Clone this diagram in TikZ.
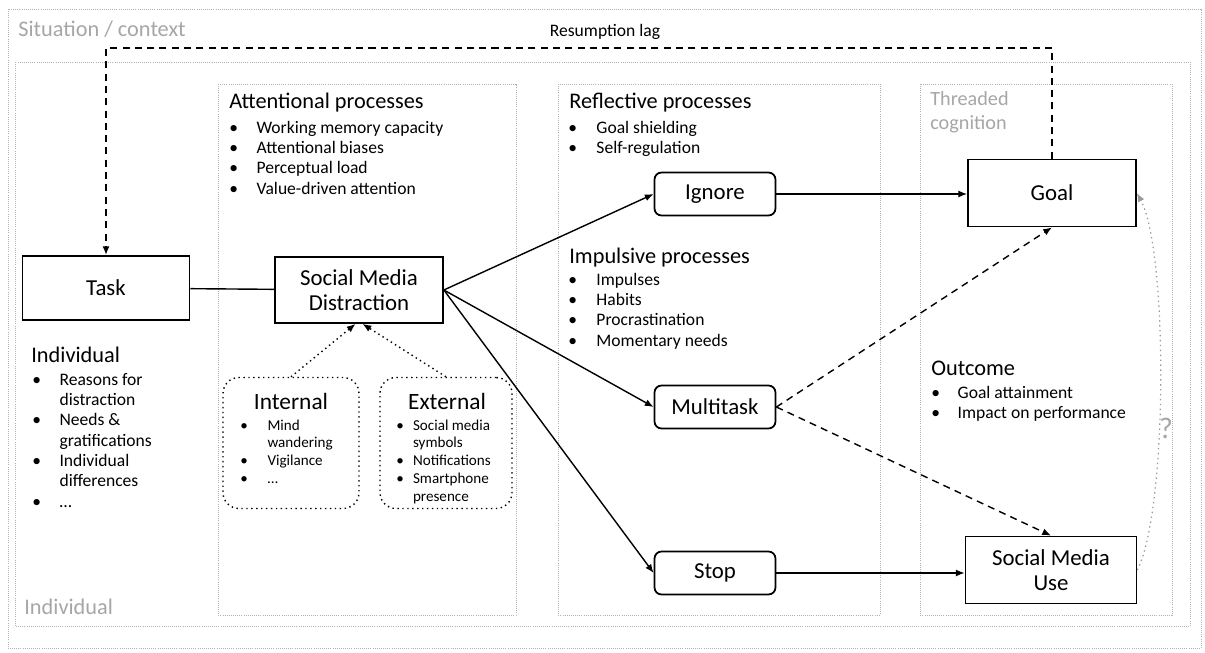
\documentclass[tikz,border=0pt]{standalone}
\usepackage{fontspec}
\setmainfont{Carlito}
\usetikzlibrary{positioning,arrows.meta}

\newcommand{\boxfont}{\fontsize{13}{14}\selectfont}
\newcommand{\titlefont}{\fontsize{12.7}{14}\selectfont}
\newcommand{\listfont}{\fontsize{10}{11.6}\selectfont}
\newcommand{\cuefont}{\fontsize{8.6}{10.2}\selectfont}
% bullet list: width of the bullet column, then rows
\newcommand{\bullets}[2]{\begin{tabular}[t]{@{}p{#1}@{}l@{}}#2\end{tabular}}

\begin{document}
\begin{tikzpicture}[x=0.02cm, y=-0.02cm,
  box/.style={draw, line width=1pt, font=\boxfont, align=center, inner sep=2pt},
  choice/.style={box, rounded corners=4pt, minimum width=2.42cm, minimum height=0.86cm},
  cue/.style={draw, line width=0.8pt, dotted, rounded corners=9pt, minimum height=2.62cm},
  area/.style={draw=black!30, line width=0.4pt, dash pattern=on 0.5pt off 0.7pt},
  flow/.style={line width=0.8pt, -{Latex[length=5pt,width=4pt]}},
  maybe/.style={flow, dash pattern=on 4pt off 3pt},
  title/.style={font=\titlefont, anchor=base west, inner sep=0pt},
  faint/.style={title, text=black!35},
  list/.style={font=\listfont, anchor=base west, inner sep=0pt},
  cuelist/.style={font=\cuefont, anchor=base west, inner sep=0pt}]
\useasboundingbox (0,0) rectangle (1205,653);

% areas
\draw[area] (8,9) rectangle (1201,648);
\draw[area] (15,62) rectangle (1190,626);
\draw[area] (218,84) rectangle (516,615);
\draw[area] (558,84) rectangle (880,615);
\draw[area] (920,84) rectangle (1172,615);

\node[faint] (situation) at (18,36) {Situation / context};
\node[faint] (indivarea) at (24,614) {Individual};
\node[faint, anchor=north west, align=left, font=\fontsize{11.5}{14}\selectfont] (threaded) at (930,91) {Threaded\\cognition};

% main boxes
\node[box, minimum width=3.34cm, minimum height=1.28cm] (task) at (106,288) {Task};
\node[box, minimum width=3.36cm, minimum height=1.32cm] (smd) at (359,290) {Social Media\\Distraction};
\node[choice] (ignore) at (715,194) {Ignore};
\node[choice] (multi) at (715,407) {Multitask};
\node[choice] (stop) at (715,573) {Stop};
\node[box, minimum width=3.36cm, minimum height=1.34cm] (goal) at (1052,193) {Goal};
\node[box, minimum width=3.42cm, minimum height=1.34cm] (smu) at (1051,570) {Social Media\\Use};

% cues
\node[cue, minimum width=2.72cm] (internal) at (291,443) {};
\node[cue, minimum width=2.64cm] (external) at (446,443) {};
\node[font=\fontsize{13.3}{15}\selectfont, anchor=base] (inthead) at (291,409) {Internal};
\node[font=\fontsize{13.3}{15}\selectfont, anchor=base] (exthead) at (447,409) {External};
\node[cuelist] (intlist) at (240,430) {\bullets{15.5pt}{%
  \textbullet & Mind\\ & wandering\\ \textbullet & Vigilance\\ \textbullet & …}};
\node[cuelist] (extlist) at (396,430) {\bullets{9.5pt}{%
  \textbullet & Social media\\ & symbols\\ \textbullet & Notifications\\
  \textbullet & Smartphone\\ & presence}};

% texts
\node[title] (indiv) at (31,362) {Individual};
\node[list] (indivlist) at (32,385) {\bullets{15.5pt}{%
  \textbullet & Reasons for\\ & distraction\\ \textbullet & Needs \&\\ & gratifications\\
  \textbullet & Individual\\ & differences\\ \textbullet & …}};
\node[title] (attn) at (229,108) {Attentional processes};
\node[list] (attnlist) at (229,133) {\bullets{15.5pt}{%
  \textbullet & Working memory capacity\\ \textbullet & Attentional biases\\
  \textbullet & Perceptual load\\ \textbullet & Value-driven attention}};
\node[title] (refl) at (569,108) {Reflective processes};
\node[list] (refllist) at (568,133) {\bullets{16pt}{%
  \textbullet & Goal shielding\\ \textbullet & Self-regulation}};
\node[title] (impul) at (569,263) {Impulsive processes};
\node[list] (impullist) at (568,285) {\bullets{16pt}{%
  \textbullet & Impulses\\ \textbullet & Habits\\ \textbullet & Procrastination\\
  \textbullet & Momentary needs}};
\node[title] (outcome) at (931,375) {Outcome};
\node[list] (outlist) at (931,398) {\bullets{15pt}{%
  \textbullet & Goal attainment\\ \textbullet & Impact on performance}};

% connectors
\draw[line width=0.8pt] (task) -- (smd);
\draw[flow] (smd.east) -- (ignore.west);
\draw[flow] (smd.east) -- (multi.west);
\draw[flow] (smd.east) -- (stop.west);
\draw[flow] (ignore) -- (ignore -| goal.west);
\draw[flow] (stop) -- (stop -| smu.west);
\draw[maybe] (multi.east) -- (goal.south);
\draw[maybe] (multi.east) -- (smu.north);
\draw[flow, dotted] (internal.north) -- ([xshift=-2pt]smd.south);
\draw[flow, dotted] (external.north) -- ([xshift=2pt]smd.south);

% resumption lag
\coordinate (lag) at (600,48);
\draw[maybe, line width=1pt] (goal.north) |- (lag) -| (task.north);
\node[font=\fontsize{10}{12}\selectfont] (lagtext) at (605,32) {Resumption lag};

% feedback
\draw[flow, black!40, dotted, line width=0.7pt] (smu.east) .. controls (1168,510) and (1168,250) .. (goal.east);
\node[text=black!35, font=\fontsize{17}{19}\selectfont] (query) at (1166,428) {?};
\end{tikzpicture}
\end{document}
